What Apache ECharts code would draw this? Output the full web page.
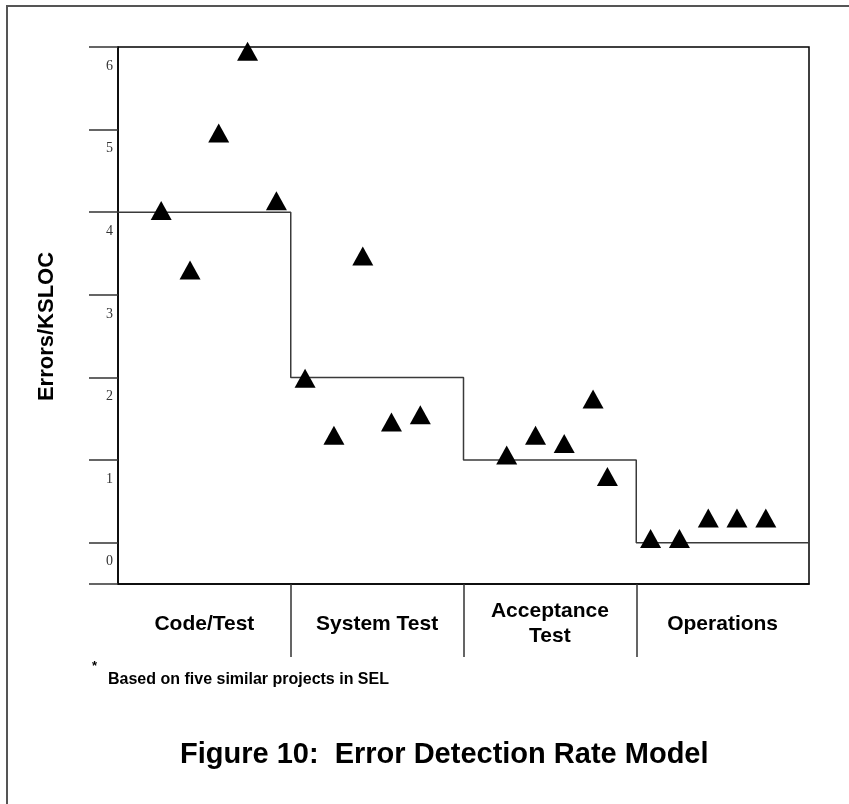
<!DOCTYPE html>
<html>
<head>
<meta charset="utf-8">
<script src="https://cdn.jsdelivr.net/npm/echarts@6/dist/echarts.min.js"></script>
<style>
  html, body { margin: 0; padding: 0; background: #ffffff; }
  #chart { width: 849px; height: 804px; }
</style>
</head>
<body>
<div id="chart"></div>
<script>
// phases along the x axis (each phase is one unit wide)
const phases = ["Code/Test", "System Test", "Acceptance\nTest", "Operations"];
const phaseCenters = [0.5, 1.5, 2.5, 3.5];
const phaseBounds = [1, 2, 3];

// model step (errors/KSLOC per phase)
const stepX = [0, 1, 2, 3, 4];
const stepY = [4, 2, 1, 0, 0];

// observed project values
const obsX = [0.25, 0.417, 0.583, 0.75, 0.917,
              1.083, 1.25, 1.417, 1.583, 1.75,
              2.25, 2.417, 2.583, 2.75, 2.833,
              3.083, 3.25, 3.417, 3.583, 3.75];
const obsY = [4.02, 3.3, 4.96, 5.95, 4.14,
              1.99, 1.3, 3.47, 1.46, 1.55,
              1.06, 1.3, 1.2, 1.74, 0.8,
              0.05, 0.05, 0.3, 0.3, 0.3];

const yTicks = [-0.5, 0, 1, 2, 3, 4, 5, 6];
const yLabels = [0, 1, 2, 3, 4, 5, 6];

const chart = echarts.init(document.getElementById("chart"));

const sans = "'Liberation Sans', Arial, sans-serif";

let option = {
  animation: false,
  backgroundColor: "#ffffff",
  title: [
    {
      text: "*",
      left: 92, top: 660, padding: 0,
      textStyle: { fontFamily: sans, fontSize: 13, fontWeight: "bold", color: "#000" }
    },
    {
      text: "Based on five similar projects in SEL",
      left: 108, top: 672, padding: 0,
      textStyle: { fontFamily: sans, fontSize: 16, fontWeight: "bold", color: "#000" }
    },
    {
      text: "Figure 10:  Error Detection Rate Model",
      left: 180, top: 740, padding: 0,
      textStyle: { fontFamily: sans, fontSize: 29, fontWeight: "bold", color: "#000" }
    }
  ],
  graphic: [
    {
      type: "rect",
      shape: { x: 7, y: 6, width: 900, height: 900 },
      style: { fill: "none", stroke: "#555", lineWidth: 2 },
      silent: true
    }
  ],
  grid: {
    left: 118, right: 40, top: 47, bottom: 220,
    show: true, borderColor: "#000", borderWidth: 1.5,
    containLabel: false
  },
  xAxis: {
    type: "value",
    min: 0, max: 4,
    axisLine: { show: true, onZero: false, lineStyle: { color: "#000", width: 1.5 } },
    axisTick: {
      show: true, length: 73, customValues: phaseBounds,
      lineStyle: { color: "#333", width: 1.5 }
    },
    axisLabel: {
      customValues: phaseCenters,
      formatter: (v) => phases[phaseCenters.indexOf(v)],
      margin: 40,
      verticalAlign: "middle",
      fontFamily: sans, fontSize: 21, fontWeight: "bold", lineHeight: 25, color: "#000"
    },
    splitLine: { show: false }
  },
  yAxis: {
    type: "value",
    min: -0.5, max: 6,
    name: "Errors/KSLOC",
    nameLocation: "middle",
    nameRotate: 90,
    nameGap: 60,
    nameTextStyle: {
      fontFamily: sans, fontSize: 22, fontWeight: "bold", color: "#000",
      padding: [0, 22, 0, 0]
    },
    axisLine: { show: true, onZero: false, lineStyle: { color: "#000", width: 1.5 } },
    axisTick: {
      show: true, length: 29, customValues: yTicks,
      lineStyle: { color: "#333", width: 1.5 }
    },
    axisLabel: {
      customValues: yLabels,
      margin: 5,
      verticalAlign: "top",
      lineHeight: 14,
      padding: [12, 0, 0, 0],
      fontFamily: "'Liberation Serif', 'Times New Roman', serif",
      fontSize: 14, color: "#333"
    },
    splitLine: { show: false }
  },
  series: [
    {
      name: "Model",
      type: "line",
      step: "end",
      data: stepX.map((x, i) => [x, stepY[i]]),
      symbol: "none",
      lineStyle: { color: "#3a3a3a", width: 1.5 },
      z: 2
    },
    {
      name: "Projects",
      type: "scatter",
      data: obsX.map((x, i) => [x, obsY[i]]),
      symbol: "triangle",
      symbolSize: [21, 19],
      itemStyle: { color: "#000", opacity: 1 },
      z: 3
    }
  ]
};

chart.setOption(option);
</script>
</body>
</html>
